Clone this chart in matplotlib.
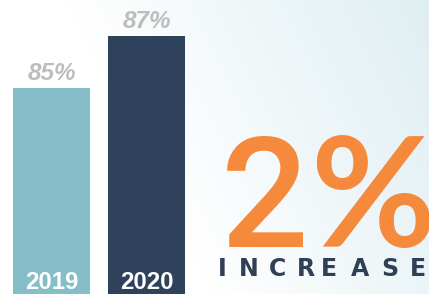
import numpy as np
import matplotlib
matplotlib.use("Agg")
import matplotlib.pyplot as plt
from matplotlib.colors import to_rgb

# ---- data ----
years = ["2019", "2020"]
values = [85, 87]
bar_colors = ["#85BDC9", "#2E425C"]
value_labels = ["85%", "87%"]
headline = "2%"
caption = "INCREASE"

W, H = 429, 294
DPI = 100
fig = plt.figure(figsize=(W / DPI, H / DPI), dpi=DPI)

# background gradient
bg = fig.add_axes([0, 0, 1, 1], zorder=0)
xx, yy = np.meshgrid(np.linspace(0, 1, W), np.linspace(0, 1, H))
t = np.clip(((xx - 0.45) / 0.55) * 0.65 + (1 - yy) * 0.4 - 0.05, 0, 1)
c0 = np.array(to_rgb("#FFFFFF"))
c1 = np.array(to_rgb("#DFEEF3"))
img = c0[None, None, :] * (1 - t[..., None]) + c1[None, None, :] * t[..., None]
bg.imshow(img, aspect="auto", extent=[0, 1, 0, 1], origin="upper")
bg.set_axis_off()

ax = fig.add_axes([0, 0, 1, 1], zorder=1)
ax.patch.set_alpha(0)
x = np.arange(len(years))
bar_w = 77 / 95
ax.bar(x, values, width=bar_w, color=bar_colors, zorder=2)
ax.set_xlim(-51.5 / 95, (W - 51.5) / 95)
ymin = 77.12
ax.set_ylim(ymin, ymin + H / 26.15)
ax.set_axis_off()

for xi, v, lab in zip(x, values, value_labels):
    ax.annotate(lab, (xi, v), xytext=(0, 8 * 72 / DPI), textcoords="offset points",
                ha="center", va="baseline", fontsize=17.5, style="italic",
                fontweight="bold", family="Liberation Sans", color="#BDBDBD")

for xi, yr in zip(x, years):
    ax.annotate(yr, (xi, ymin), xytext=(0, 5 * 72 / DPI), textcoords="offset points",
                ha="center", va="baseline", fontsize=17.3, fontweight="bold",
                family="Liberation Sans", color="white")

# headline, drawn glyph by glyph
head_x = [265, 373]
head_font = ["Roboto", "Lato"]
head_weight = ["medium", "bold"]
head_size = [111, 110]
for hx, ch, fam, fw, fs in zip(head_x, headline, head_font, head_weight, head_size):
    fig.text(hx / W, 1 - 247 / H, ch, ha="center", va="baseline",
             fontsize=fs, fontweight=fw, family=fam, color="#F58A3C", zorder=3)

letter_x = [222, 249, 277, 306, 329, 360, 390, 418]
for lx, ch in zip(letter_x, caption):
    fig.text(lx / W, 1 - 276 / H, ch, ha="center", va="baseline",
             fontsize=17, fontweight="bold", family="DejaVu Sans",
             color="#2E3F56", zorder=3)

fig.savefig("out.png", dpi=DPI)
